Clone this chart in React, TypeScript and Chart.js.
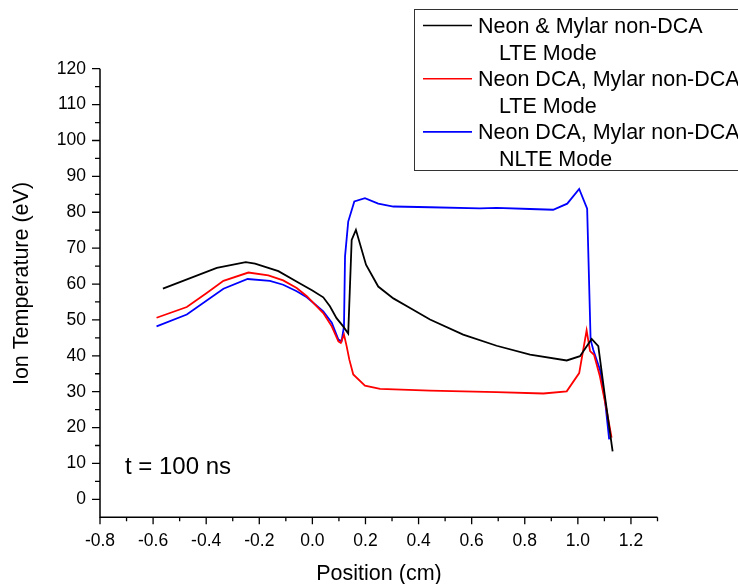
import React, { useEffect, useRef } from "react";
import { Chart, registerables } from "chart.js";

Chart.register(...registerables);

// ---- Data ----
const xTicks = [-0.8, -0.6, -0.4, -0.2, 0.0, 0.2, 0.4, 0.6, 0.8, 1.0, 1.2];
const yTicks = [0, 10, 20, 30, 40, 50, 60, 70, 80, 90, 100, 110, 120];

const xTitle = "Position (cm)";
const yTitle = "Ion Temperature (eV)";
const annotationText = "t = 100 ns";

const seriesLabels = [
  ["Neon & Mylar non-DCA", "LTE Mode"],
  ["Neon DCA, Mylar non-DCA", "LTE Mode"],
  ["Neon DCA, Mylar non-DCA", "NLTE Mode"],
];
const seriesColors = ["#000000", "#ff0000", "#0000ff"];

const blackX = [-0.563, -0.36, -0.251, -0.216, -0.128, -0.05, 0.0, 0.041, 0.066, 0.091, 0.116, 0.135, 0.148, 0.164, 0.202, 0.248, 0.305, 0.368, 0.443, 0.568, 0.694, 0.82, 0.958, 1.008, 1.052, 1.077, 1.102, 1.131];
const blackY = [58.7, 64.5, 66.1, 65.7, 63.6, 60.3, 58.2, 56.3, 53.8, 50.5, 48.2, 46.2, 72.3, 75.1, 65.4, 59.3, 56.0, 53.3, 50.1, 45.9, 42.8, 40.3, 38.7, 39.9, 44.7, 42.7, 28.7, 13.4];

const redX = [-0.587, -0.473, -0.398, -0.335, -0.241, -0.166, -0.11, -0.059, -0.021, 0.041, 0.073, 0.098, 0.107, 0.119, 0.129, 0.139, 0.154, 0.198, 0.255, 0.443, 0.694, 0.87, 0.958, 1.005, 1.033, 1.046, 1.061, 1.083, 1.108, 1.127];
const redY = [50.6, 53.6, 57.5, 60.9, 63.2, 62.4, 61.0, 58.9, 56.6, 51.9, 48.2, 44.0, 43.6, 45.9, 42.7, 39.0, 34.8, 31.7, 30.8, 30.3, 29.9, 29.5, 30.1, 35.2, 47.1, 41.3, 40.3, 34.3, 25.0, 17.2];

const blueX = [-0.587, -0.473, -0.335, -0.244, -0.16, -0.11, -0.059, -0.021, 0.041, 0.073, 0.098, 0.11, 0.119, 0.123, 0.135, 0.158, 0.198, 0.248, 0.305, 0.443, 0.631, 0.694, 0.82, 0.907, 0.96, 1.005, 1.035, 1.048, 1.058, 1.083, 1.102, 1.118];
const blueY = [48.2, 51.5, 58.7, 61.4, 60.9, 59.8, 58.0, 56.3, 52.4, 49.2, 44.5, 44.1, 48.2, 67.7, 77.4, 83.0, 83.9, 82.4, 81.6, 81.4, 81.1, 81.2, 80.9, 80.7, 82.4, 86.5, 81.0, 44.5, 41.7, 36.2, 27.8, 16.7];

const seriesX = [blackX, redX, blueX];
const seriesY = [blackY, redY, blueY];

const FONT = "'Liberation Sans', Arial, Helvetica, sans-serif";

const decorPlugin = {
  id: "decor",
  afterDraw(chart: any) {
    const ctx = chart.ctx as CanvasRenderingContext2D;
    const xs = chart.scales.x;
    const ys = chart.scales.y;
    const { left, right, top, bottom } = chart.chartArea;
    ctx.save();
    // axes
    ctx.strokeStyle = "#000";
    ctx.lineWidth = 1.5;
    ctx.beginPath();
    ctx.moveTo(left, top);
    ctx.lineTo(left, bottom);
    ctx.lineTo(right, bottom);
    ctx.stroke();
    // ticks
    ctx.lineWidth = 1.3;
    ctx.beginPath();
    xTicks.forEach((v) => {
      const p = xs.getPixelForValue(v);
      ctx.moveTo(p, bottom);
      ctx.lineTo(p, bottom + 7);
      const pm = xs.getPixelForValue(v + 0.1);
      ctx.moveTo(pm, bottom);
      ctx.lineTo(pm, bottom + 4);
    });
    yTicks.forEach((v) => {
      const p = ys.getPixelForValue(v);
      ctx.moveTo(left, p);
      ctx.lineTo(left - 8, p);
      if (v + 5 <= 120) {
        const pm = ys.getPixelForValue(v + 5);
        ctx.moveTo(left, pm);
        ctx.lineTo(left - 5, pm);
      }
    });
    ctx.stroke();

    ctx.fillStyle = "#000";
    // axis titles
    ctx.font = `21.5px ${FONT}`;
    ctx.textAlign = "center";
    ctx.textBaseline = "alphabetic";
    ctx.fillText(xTitle, 379, 580);
    ctx.save();
    ctx.translate(28, 283.5);
    ctx.rotate(-Math.PI / 2);
    ctx.fillText(yTitle, 0, 0);
    ctx.restore();

    // annotation
    ctx.font = `24px ${FONT}`;
    ctx.textAlign = "left";
    ctx.fillText(annotationText, 125, 474);

    // legend
    ctx.strokeStyle = "#333";
    ctx.lineWidth = 1;
    ctx.strokeRect(414.5, 9.5, 330, 161);
    ctx.font = `21.5px ${FONT}`;
    const rowH = 26.6;
    seriesLabels.forEach((lines, i) => {
      const cy = 25.5 + rowH * 2 * i;
      ctx.strokeStyle = seriesColors[i];
      ctx.lineWidth = 1.6;
      ctx.beginPath();
      ctx.moveTo(423, cy);
      ctx.lineTo(472, cy);
      ctx.stroke();
      ctx.fillStyle = "#000";
      ctx.fillText(lines[0], 478, cy + 7.5);
      ctx.fillText(lines[1], 499, cy + rowH + 7.5);
    });
    ctx.restore();
  },
};

export default function App() {
  const ref = useRef<HTMLCanvasElement | null>(null);
  useEffect(() => {
    if (!ref.current) return;
    const chart = new Chart(ref.current, {
      type: "scatter",
      data: {
        datasets: seriesLabels.map((lbl, i) => ({
          label: lbl.join(" "),
          data: seriesX[i].map((x, j) => ({ x, y: seriesY[i][j] })),
          borderColor: seriesColors[i],
          backgroundColor: seriesColors[i],
          borderWidth: 1.8,
          showLine: true,
          pointRadius: 0,
          tension: 0,
        })),
      },
      options: {
        animation: false,
        responsive: false,
        devicePixelRatio: 1,
        layout: { padding: { left: 0, top: 68.7, right: 80.5, bottom: 0 } },
        plugins: { legend: { display: false }, tooltip: { enabled: false } },
        scales: {
          x: {
            type: "linear",
            min: -0.8,
            max: 1.3,
            afterBuildTicks: (s: any) => {
              s.ticks = xTicks.map((v) => ({ value: v }));
            },
            afterFit: (s: any) => {
              s.height = 66.7;
            },
            grid: { display: false, drawTicks: false },
            border: { display: false },
            ticks: {
              padding: 13,
              color: "#000",
              font: { family: FONT, size: 17.5 },
              maxRotation: 0,
              autoSkip: false,
              callback: (v: any) => Number(v).toFixed(1),
            },
          },
          y: {
            type: "linear",
            min: -5,
            max: 120,
            afterBuildTicks: (s: any) => {
              s.ticks = yTicks.map((v) => ({ value: v }));
            },
            afterFit: (s: any) => {
              s.width = 100;
            },
            grid: { display: false, drawTicks: false },
            border: { display: false },
            ticks: {
              padding: 14,
              color: "#000",
              font: { family: FONT, size: 17.5 },
              autoSkip: false,
              callback: (v: any) => String(v),
            },
          },
        },
      } as any,
      plugins: [decorPlugin],
    });
    return () => chart.destroy();
  }, []);
  return (
    <div style={{ position: "absolute", left: 0, top: 0, width: 738, height: 584, background: "#fff" }}>
      <canvas ref={ref} width={738} height={584} style={{ display: "block" }} />
    </div>
  );
}
